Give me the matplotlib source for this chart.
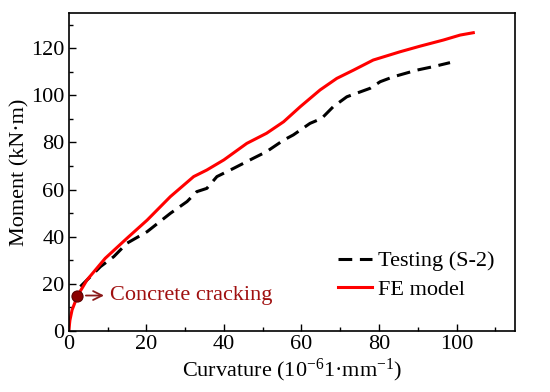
import matplotlib
matplotlib.use("Agg")
import matplotlib.pyplot as plt
from matplotlib.ticker import MultipleLocator

plt.rcParams["font.family"] = ["Liberation Serif", "DejaVu Serif"]
plt.rcParams["mathtext.default"] = "regular"
plt.rcParams["font.size"] = 16

# FE model curve
fe_x = [0, 0.3, 0.86, 2.3, 4.7, 9.4, 15, 20.2, 26.2, 32.2, 35.6, 40, 45.9, 51, 55.4,
        59.7, 64.8, 69.1, 73.4, 78.5, 85.4, 90.6, 96.6, 100.9, 104.3]
fe_y = [0, 4.5, 8.9, 15, 21.6, 30.8, 39.3, 47, 57, 65.5, 68.3, 72.6, 79.6, 83.9, 88.8,
        95.2, 102.3, 107.2, 110.7, 115, 118.5, 120.9, 123.5, 125.6, 126.6]

# Testing (S-2) curve
test_x = [3, 8.2, 11.6, 15, 20.2, 26.2, 30.5, 33, 35.6, 38.2, 42.5, 47.6, 51, 55.4,
          57.9, 62.2, 65.2, 68.2, 71.7, 77.7, 80.3, 83.7, 89.7, 94, 98.3]
test_y = [18.8, 27.3, 31.5, 37.2, 42.1, 49.9, 54.9, 59.1, 60.5, 65.5, 69, 73.3, 76.1, 81,
          83.2, 88.1, 90.2, 95.2, 99.4, 103, 105.8, 107.9, 110.7, 112.2, 113.9]

crack_x, crack_y = 2.2, 15

fig = plt.figure(figsize=(5.5, 3.92), dpi=100)
ax = fig.add_axes([0.125, 0.156, 0.811, 0.811])

ax.plot(test_x, test_y, color="black", lw=2.2, linestyle=(0, (4.5, 2.5)), label="Testing (S-2)")
ax.plot(fe_x, fe_y, color="#ff0000", lw=2.2, label="FE model")

ax.plot(crack_x, crack_y, "o", ms=8, mfc="#8b0000", mec="#5a0000", mew=0.8, zorder=5)
ax.annotate("", xy=(9.8, crack_y), xytext=(3.7, crack_y),
            arrowprops=dict(arrowstyle="->", color="#8b1a1a", lw=1.3))
ax.text(10.6, crack_y, "Concrete cracking", color="#a01010", va="center", ha="left")

ax.set_xlim(0, 115)
ax.set_ylim(0, 135)
ax.xaxis.set_major_locator(MultipleLocator(20))
ax.xaxis.set_minor_locator(MultipleLocator(10))
ax.yaxis.set_major_locator(MultipleLocator(20))
ax.yaxis.set_minor_locator(MultipleLocator(10))
ax.tick_params(which="both", direction="in", top=False, right=False)
ax.tick_params(which="major", length=5, width=1, pad=3)
ax.tick_params(which="minor", length=3, width=1)
for s in ax.spines.values():
    s.set_linewidth(1.2)

ax.set_xlabel("Curvature (10$^{-6}$1·mm$^{-1}$)", labelpad=2)
ax.set_ylabel("Moment (kN·m)", labelpad=1)

ax.legend(loc="lower right", bbox_to_anchor=(1.0, 0.035), frameon=False,
          handlelength=1.5, handletextpad=0.3, labelspacing=0.35)

fig.savefig("out.png", dpi=100)
